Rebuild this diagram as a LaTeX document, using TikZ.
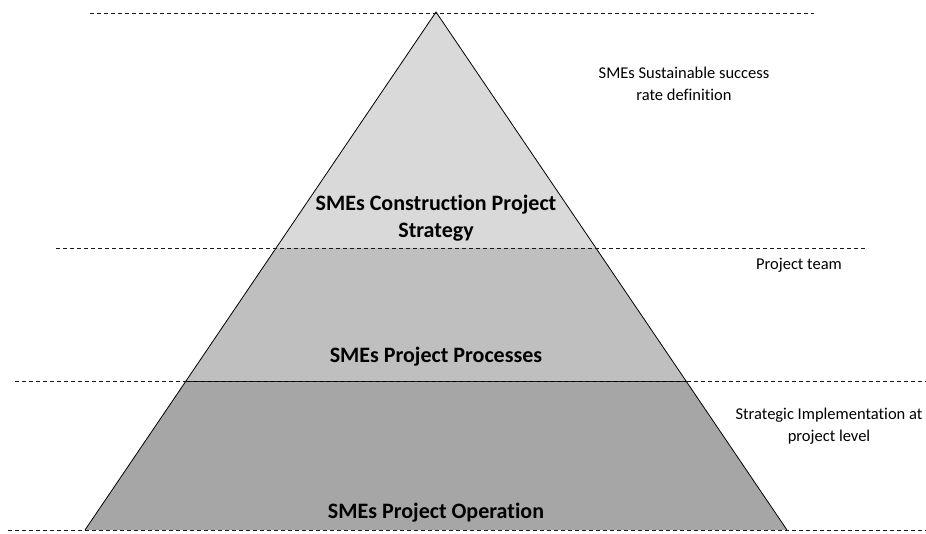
\documentclass[tikz,border=0pt]{standalone}
\usepackage{fontspec}
\setmainfont{Carlito}[Ligatures=NoCommon]
\usepackage{tikz}

\begin{document}
\begin{tikzpicture}[x=1pt, y=-1pt, line width=0.8pt]

    \tikzstyle{guide}=[draw=black!90, dash pattern=on 4pt off 3pt, line width=0.9pt]
    \tikzstyle{tier title}=[font=\bfseries\fontsize{22}{27}\selectfont, align=center]
    \tikzstyle{side note}=[font=\fontsize{16.5}{22}\selectfont, align=center]

    \useasboundingbox (0,0) rectangle (926,533);

    % pyramid corners and tier edges
    \coordinate (apex) at (436,12);
    \coordinate (bl)   at (85,530);
    \coordinate (br)   at (787,530);
    \coordinate (ul)   at (276,248);
    \coordinate (ur)   at (596,248);
    \coordinate (ml)   at (186,381);
    \coordinate (mr)   at (686,381);

    \fill[gray!30] (apex) -- (ur) -- (ul) -- cycle;
    \fill[gray!50] (ul) -- (ur) -- (mr) -- (ml) -- cycle;
    \fill[gray!70] (ml) -- (mr) -- (br) -- (bl) -- cycle;
    \draw (bl) -- (apex) -- (br);
    \draw (ml) -- (mr);

    % dashed level lines
    \coordinate (g1a) at (90,13);  \coordinate (g1b) at (814,13);
    \coordinate (g2a) at (56,248); \coordinate (g2b) at (868,248);
    \coordinate (g3a) at (15,381); \coordinate (g3b) at (926,381);
    \coordinate (g4a) at (8,530);  \coordinate (g4b) at (926,530);
    \draw[guide] (g1a) -- (g1b);
    \draw[guide] (g2a) -- (g2b);
    \draw[guide] (g3a) -- (g3b);
    \draw[guide] (g4a) -- (g4b);

    \node[tier title] (strategy)  at (436,218) {SMEs Construction Project\\Strategy};
    \node[tier title] (processes) at (436,357) {SMEs Project Processes};
    \node[tier title] (operation) at (436,513) {SMEs Project Operation};

    \node[side note] (success)   at (684,84)  {SMEs Sustainable success\\rate definition};
    \node[side note] (team)      at (799,265) {Project team};
    \node[side note] (implement) at (829,426) {Strategic Implementation at\\project level};

\end{tikzpicture}
\end{document}
